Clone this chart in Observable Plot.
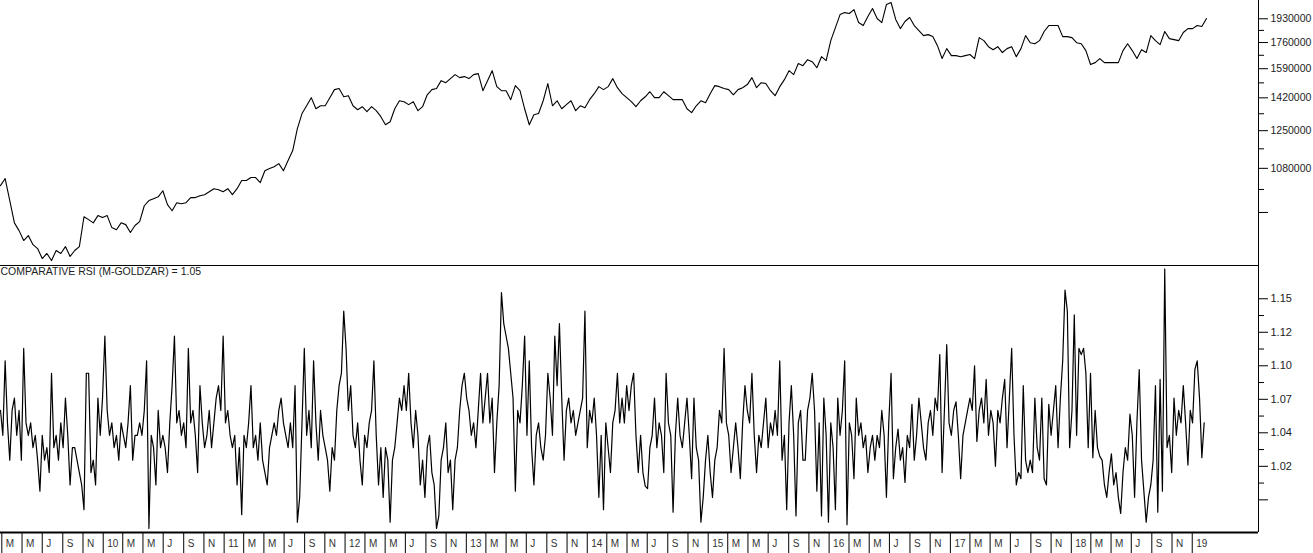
<!DOCTYPE html>
<html><head><meta charset="utf-8">
<script src="https://cdn.jsdelivr.net/npm/d3@7"></script>
<script src="https://cdn.jsdelivr.net/npm/@observablehq/plot@0.6"></script>
<style>
body{margin:0;background:#fff;}
#chart svg{display:block;}
</style></head><body><div id="chart"></div>
<script>
// ---------------- data ----------------
// price (in thousands), one value every 14 days starting 2009-02-25
const priceStart = "2009-02-25";
const priceStepDays = 14;
const priceK = [
1010,1038,953,874,848,816,832,803,791,761,
776,755,785,776,797,767,785,797,895,885,
874,899,892,899,858,851,874,868,842,865,
878,934,953,960,967,990,938,916,945,941,
945,964,964,971,975,986,998,994,986,998,
975,998,1030,1030,1042,1042,1022,1070,1079,1087,
1100,1070,1113,1157,1260,1336,1377,1421,1361,1377,
1377,1421,1466,1472,1426,1432,1377,1356,1372,1346,
1372,1351,1320,1279,1294,1361,1404,1399,1383,1399,
1351,1372,1437,1466,1472,1518,1506,1530,1554,1536,
1542,1530,1554,1560,1460,1518,1578,1483,1460,1460,
1410,1489,1460,1361,1279,1330,1336,1404,1501,1377,
1404,1361,1383,1404,1351,1377,1366,1410,1443,1483,
1466,1483,1530,1477,1443,1421,1399,1372,1404,1426,
1454,1421,1421,1454,1432,1410,1410,1410,1361,1341,
1377,1404,1393,1443,1489,1483,1472,1466,1437,1466,
1477,1495,1536,1477,1506,1501,1460,1432,1483,1524,
1578,1554,1622,1609,1647,1634,1596,1666,1641,1773,
1865,1962,1977,1970,2000,1902,1880,1947,2009,1932,
1902,2040,2056,1925,1858,1910,1940,1880,1844,1808,
1815,1801,1739,1654,1719,1673,1673,1666,1673,1680,
1654,1794,1773,1732,1712,1732,1693,1719,1732,1666,
1719,1808,1759,1752,1773,1837,1880,1880,1880,1801,
1801,1794,1759,1752,1706,1616,1628,1654,1628,1628,
1628,1628,1706,1752,1706,1654,1712,1693,1808,1773,
1746,1837,1787,1780,1773,1830,1858,1858,1880,1873,
1932];

// comparative RSI, one value every 7 days starting 2009-02-25
const rsiStart = "2009-02-25";
const rsiStepDays = 7;
const rsi = [
1.06,1.04,1.10,1.05,1.02,1.06,1.07,1.04,1.06,1.02,
1.11,1.05,1.04,1.05,1.03,1.04,1.02,0.995,1.04,1.02,
1.03,1.01,1.09,1.03,1.04,1.02,1.05,1.03,1.07,1.04,
1.00,1.03,1.03,1.02,1.01,1.00,0.98,1.09,1.09,1.01,
1.02,1.00,1.07,1.04,1.07,1.12,1.06,1.04,1.05,1.03,
1.04,1.02,1.05,1.04,1.03,1.05,1.08,1.02,1.04,1.04,
1.05,1.04,1.06,1.10,0.965,1.04,1.03,1.00,1.06,1.03,
1.04,1.03,1.01,1.05,1.08,1.12,1.05,1.06,1.04,1.05,
1.03,1.11,1.05,1.06,1.04,1.01,1.08,1.05,1.03,1.04,
1.06,1.03,1.05,1.07,1.08,1.06,1.12,1.05,1.06,1.04,
1.03,1.04,1.00,1.03,0.976,1.04,1.03,1.05,1.08,1.03,
1.04,1.02,1.05,1.02,1.01,1.00,1.03,1.04,1.05,1.04,
1.06,1.07,1.05,1.04,1.03,1.05,1.03,1.08,0.97,0.99,
1.05,1.11,1.04,1.06,1.03,1.10,1.05,1.02,1.06,1.04,
1.03,1.02,0.995,1.03,1.02,1.06,1.08,1.09,1.14,1.11,
1.06,1.08,1.04,1.03,1.05,1.02,1.00,1.04,1.03,1.05,
1.06,1.10,1.04,1.00,1.03,0.99,1.03,1.02,0.97,1.02,
1.03,1.05,1.07,1.06,1.08,1.06,1.09,1.05,1.03,1.06,
1.04,1.00,1.02,0.99,1.03,1.04,1.01,1.00,0.965,0.975,
1.02,1.03,1.05,1.01,1.02,0.98,1.02,1.03,1.06,1.08,
1.09,1.07,1.06,1.04,1.05,1.03,1.06,1.09,1.05,1.07,
1.09,1.05,1.07,1.01,1.05,1.08,1.155,1.13,1.12,1.11,
1.09,1.07,0.995,1.06,1.05,1.08,1.12,1.04,1.10,1.03,
1.00,1.04,1.05,1.03,1.02,1.04,1.09,1.07,1.04,1.12,
1.08,1.13,1.07,1.02,1.06,1.07,1.05,1.06,1.04,1.05,
1.06,1.07,1.14,1.03,1.06,1.05,1.07,1.04,0.99,1.04,
0.98,1.05,1.03,1.01,1.05,1.06,1.09,1.05,1.07,1.05,
1.08,1.06,1.08,1.09,1.04,1.01,1.04,1.01,0.999,0.997,
1.03,1.04,1.07,1.03,1.05,1.04,1.01,1.09,1.05,1.04,
0.978,1.04,1.07,1.04,1.03,1.05,1.07,1.04,1.005,1.07,
1.03,1.02,0.97,0.99,1.02,1.04,1.01,0.99,1.02,1.03,
1.06,1.05,1.11,1.05,1.04,1.01,1.03,1.05,1.03,1.005,
1.05,1.08,1.06,1.05,1.09,1.04,1.01,1.04,1.03,1.05,
1.07,1.03,1.05,1.04,1.06,1.04,1.10,1.02,1.04,0.98,
1.05,1.08,1.04,0.975,1.05,1.06,1.02,1.02,1.06,1.07,
1.09,1.06,0.995,1.05,0.975,1.07,1.04,0.97,1.05,1.03,
0.98,1.07,1.04,1.06,1.10,0.968,1.05,1.04,1.005,1.07,
1.04,1.05,1.03,1.04,1.01,1.03,1.04,1.02,1.04,1.03,
1.06,1.04,0.99,1.05,1.09,1.005,1.03,1.045,1.02,1.03,
1.002,1.04,1.03,1.065,1.02,1.04,1.07,1.05,1.03,1.02,
1.05,1.06,1.04,1.07,1.06,1.105,1.01,1.06,1.113,1.05,
1.04,1.06,1.067,1.04,1.005,1.04,1.05,1.06,1.07,1.06,
1.096,1.035,1.06,1.07,1.05,1.085,1.04,1.06,1.05,1.015,
1.06,1.05,1.07,1.085,1.03,1.07,1.11,1.04,1.00,1.01,
1.005,1.08,1.02,1.01,1.02,1.01,1.07,1.03,1.02,1.07,
1.005,1.00,1.065,1.04,1.06,1.08,1.03,1.07,1.10,1.157,
1.14,1.03,1.06,1.137,1.04,1.11,1.105,1.11,1.09,1.03,
1.09,1.022,1.06,1.03,1.023,1.02,1.00,0.99,1.01,1.025,
1.00,1.01,0.99,0.977,1.01,1.03,1.02,1.057,1.04,0.99,
1.05,1.093,1.02,0.995,0.97,0.99,1.00,1.02,1.08,0.978,
1.085,0.995,1.174,1.03,1.04,1.01,1.07,1.04,1.06,1.05,
1.08,1.05,1.016,1.06,1.05,1.093,1.10,1.07,1.022,1.05];

// axis ticks and labels
const priceTicks = [1930000,1760000,1590000,1420000,1250000,1080000,910000];
const priceTickLabels = ["1930000","1760000","1590000","1420000","1250000","1080000",""];
const priceMinorTicks = [1845000,1675000,1505000,1335000,1165000,995000];
const rsiTicks = [1.15,1.123,1.096,1.069,1.042,1.015,0.988];
const rsiTickLabels = ["1.15","1.12","1.10","1.07","1.04","1.02",""];
const rsiMinorTicks = [1.1365,1.1095,1.0825,1.0555,1.0285,1.0015];
const xTickStart = "2009-03-01"; // one cell every two months
const monthLetters = ["M","M","J","S","N"];
const yearLabels = ["10","11","12","13","14","15","16","17","18","19"];
const indicatorTitle = "COMPARATIVE RSI (M-GOLDZAR) = 1.05";

// ---------------- build ----------------
const DAY = 864e5;
const t0p = Date.parse(priceStart), t0r = Date.parse(rsiStart);
const priceData = priceK.map((v, i) => ({date: new Date(t0p + i * priceStepDays * DAY), price: v * 1000}));
const rsiData = rsi.map((v, i) => ({date: new Date(t0r + i * rsiStepDays * DAY), rsi: v}));

const xTickLabels = [...monthLetters];
for (const y of yearLabels) {
  xTickLabels.push(y);
  if (y !== "19") xTickLabels.push(...monthLetters);
}
const xs = new Date(xTickStart);
const xTickDates = xTickLabels.map((_, i) => new Date(Date.UTC(xs.getUTCFullYear(), xs.getUTCMonth() + 2 * i, 1)));

const xDomain = [new Date(Date.UTC(2009, 1, 25)), new Date(Date.UTC(2019, 6, 20))];
const font = "'Liberation Sans', Arial, sans-serif";
const common = {
  width: 1313, marginLeft: 0, marginRight: 55,
  style: {fontFamily: font, fontSize: "11px", background: "#fff", color: "#000", overflow: "visible"}
};

const topChart = Plot.plot({
  ...common, height: 265, marginTop: 0, marginBottom: 0,
  x: {type: "utc", domain: xDomain, axis: null},
  y: {type: "log", domain: [740638, 2072067]},
  marks: [
    Plot.ruleX([xDomain[1]], {stroke: "#000"}),
    Plot.axisY({anchor: "right", ticks: priceMinorTicks, tickSize: 5, tickFormat: () => "", label: null, stroke: "#000"}),
    Plot.axisY({anchor: "right", ticks: priceTicks, tickSize: 9, tickPadding: 3, label: null,
      tickFormat: d => priceTickLabels[priceTicks.indexOf(d)], stroke: "#000", fill: "#222", fontSize: 10.5}),
    Plot.line(priceData, {x: "date", y: "price", stroke: "#000", strokeWidth: 1.1})
  ]
});

const botChart = Plot.plot({
  ...common, height: 268, marginTop: 0, marginBottom: 1,
  x: {type: "utc", domain: xDomain, axis: null},
  y: {domain: [0.96168, 1.1768]},
  marks: [
    Plot.ruleY([1.1768], {stroke: "#000"}),
    Plot.ruleY([0.96168], {stroke: "#000", strokeWidth: 2}),
    Plot.ruleX([xDomain[1]], {stroke: "#000"}),
    Plot.axisY({anchor: "right", ticks: rsiMinorTicks, tickSize: 5, tickFormat: () => "", label: null, stroke: "#000"}),
    Plot.axisY({anchor: "right", ticks: rsiTicks, tickSize: 9, tickPadding: 3, label: null,
      tickFormat: d => rsiTickLabels[rsiTicks.indexOf(d)], stroke: "#000", fill: "#222", fontSize: 11}),
    Plot.line(rsiData, {x: "date", y: "rsi", stroke: "#000", strokeWidth: 1.2}),
    Plot.text([indicatorTitle], {frameAnchor: "top-left", text: d => d, textAnchor: "start", lineAnchor: "top",
      dy: 2, fill: "#222", fontSize: 10.5})
  ]
});

const axisRow = Plot.plot({
  ...common, height: 20, marginTop: 0, marginBottom: 0,
  x: {type: "utc", domain: xDomain, axis: null},
  marks: [
    Plot.ruleX(xTickDates, {x: d => d, stroke: "#000"}),
    Plot.text(xTickDates, {x: d => d, text: (d, i) => xTickLabels[i], dx: 4, textAnchor: "start", fill: "#333", fontSize: 10})
  ]
});

const el = document.getElementById("chart");
el.append(topChart, botChart, axisRow);
</script>
</body></html>
